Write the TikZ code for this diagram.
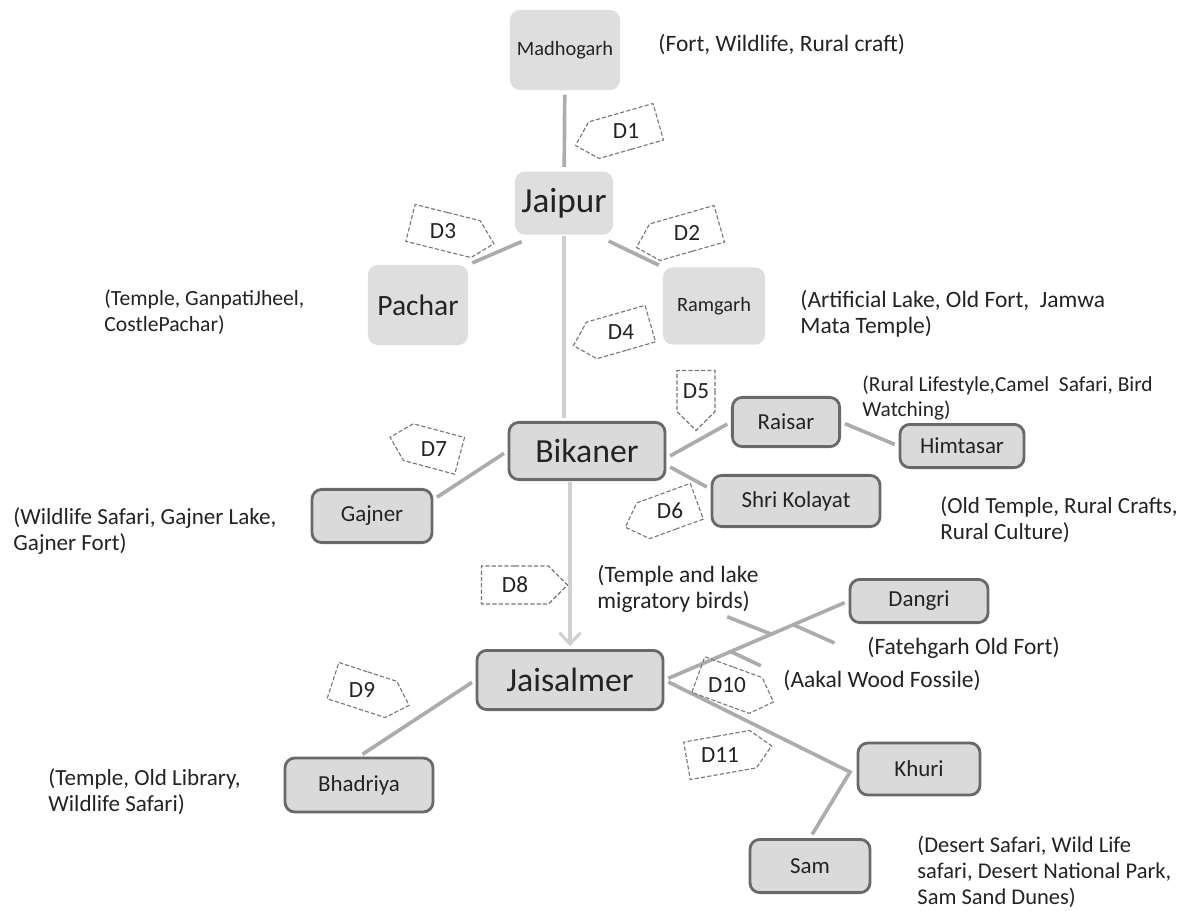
\documentclass[tikz,border=0pt]{standalone}
\usepackage{fontspec}
\setmainfont{Carlito}
\usetikzlibrary{arrows.meta,shapes.symbols}

\definecolor{ink}{RGB}{35,35,35}
\definecolor{softfill}{RGB}{222,222,222}
\definecolor{boxfill}{RGB}{218,218,218}
\definecolor{boxline}{RGB}{105,105,105}
\definecolor{roadgray}{RGB}{172,172,172}
\definecolor{trunkgray}{RGB}{208,208,208}
\definecolor{taggray}{RGB}{120,120,120}

% dashed distance tag: name, position, angle, length
\newcommand{\dtag}[4]{%
  \node[tag,rotate=#3,minimum width=#4] (#1) at (#2) {\rotatebox{-#3}{#1}};}

\begin{document}
\begin{tikzpicture}[x=0.025cm,y=-0.025cm,>={Straight Barb[length=8pt,width=15pt]},
                    semithick]
  \tikzstyle{every node}=[text=ink]
  \tikzstyle{soft}=[rectangle,rounded corners=7pt,fill=softfill,
                    font=\fontsize{14.5}{17}\selectfont]
  \tikzstyle{town}=[rectangle,rounded corners=7pt,draw=boxline,line width=2pt,
                    fill=boxfill,font=\fontsize{16.3}{19}\selectfont]
  \tikzstyle{big}=[font=\fontsize{24}{28}\selectfont]
  \tikzstyle{note}=[anchor=west,align=left,inner sep=0pt,
                    font=\fontsize{16.7}{18.5}\selectfont]
  \tikzstyle{road}=[draw=roadgray,line width=2.6pt,shorten <=3pt,shorten >=3pt]
  \tikzstyle{trunk}=[draw=trunkgray,line width=2.2pt,shorten <=1pt,shorten >=2pt]
  \tikzstyle{tag}=[signal,draw=taggray,dash pattern=on 3pt off 1.5pt,
                   line width=0.8pt,minimum height=0.95cm,inner sep=0pt,
                   font=\fontsize{16.5}{19}\selectfont]

  \useasboundingbox (0,0) rectangle (1189,910);

  % places
  \node[soft,minimum width=2.75cm,minimum height=2cm]   (MG) at (565,50)  {Madhogarh};
  \node[soft,font=\fontsize{25}{29}\selectfont,minimum width=2.45cm,minimum height=1.575cm]
                                                        (JP) at (564,203) {Jaipur};
  \node[soft,font=\fontsize{21}{25}\selectfont,minimum width=2.5cm,minimum height=2cm]
                                                        (PC) at (418,305) {Pachar};
  \node[soft,minimum width=2.55cm,minimum height=1.93cm] (RG) at (714,306) {Ramgarh};
  \node[town,big,minimum width=3.9cm,minimum height=1.43cm]  (BK) at (587,451) {Bikaner};
  \node[town,minimum width=2.68cm,minimum height=1.23cm] (RS) at (786,422) {Raisar};
  \node[town,minimum width=3.1cm,minimum height=1.08cm]  (HT) at (962,446) {Himtasar};
  \node[town,minimum width=4.2cm,minimum height=1.28cm]  (SK) at (796,501) {Shri Kolayat};
  \node[town,minimum width=3cm,minimum height=1.33cm]    (GJ) at (372,516) {Gajner};
  \node[town,big,minimum width=4.65cm,minimum height=1.48cm] (JS) at (570,680) {Jaisalmer};
  \node[town,minimum width=3.45cm,minimum height=1.08cm] (DG) at (919,601) {Dangri};
  \node[town,minimum width=3.05cm,minimum height=1.3cm]  (KH) at (919,769) {Khuri};
  \node[town,minimum width=3.7cm,minimum height=1.35cm]  (BD) at (359,785) {Bhadriya};
  \node[town,minimum width=3cm,minimum height=1.33cm]    (SM) at (810,866) {Sam};

  % connections
  \draw[road] (MG) -- (JP);
  \draw[road,shorten <=12pt] (JP.-130) -- (PC.north east);
  \draw[road,shorten <=10pt] (JP.-45) -- (RG.north west);
  \draw[trunk] (JP.south) -- (JP |- BK.north);
  \draw[road] (BK.-5) -- (RS.west);
  \draw[road] (RS.east) -- (HT.west);
  \draw[road] (BK.-10) -- (SK.172);
  \draw[road] (BK.west) -- (GJ.15);
  \draw[trunk,->] (BK.south -| JS) -- (JS.north);
  \draw[road] (JS.west) -- (BD.north);
  \draw[road] (JS.east) -- (DG.west);
  \path (JS.east) -- (DG.west) coordinate[pos=0.58] (F1)
        coordinate[pos=0.70] (F2) coordinate[pos=0.36] (F3);
  \draw[road,shorten <=0pt] (F1) -- ++(-48,-19);
  \draw[road,shorten <=0pt] (F2) -- ++(45,20);
  \draw[road,shorten <=0pt] (F3) -- ++(34,16);
  \coordinate (KJ) at (850,772);
  \draw[road] (JS.east) -- (KJ) -- (SM.north);

  % distances
  \dtag{D1}{626,131}{196}{2.15cm}
  \dtag{D2}{687,233}{196}{2.15cm}
  \dtag{D3}{443,231}{346}{2.15cm}
  \dtag{D4}{621,332}{196}{2.0cm}
  \dtag{D5}{696,391}{270}{1.5cm}
  \dtag{D6}{670,511}{200}{1.9cm}
  \dtag{D7}{434,449}{165}{1.8cm}
  \dtag{D8}{515,585}{0}{2.15cm}
  \dtag{D9}{362,690}{342}{2.0cm}
  \dtag{D10}{727,685}{340}{2.0cm}
  \dtag{D11}{720,755}{10}{2.15cm}

  % attractions
  \node[note] (MGn) at (658,45)  {(Fort, Wildlife, Rural craft)};
  \node[note,font=\fontsize{15.4}{18.5}\selectfont]
              (PCn) at (104,312) {(Temple, GanpatiJheel,\\CostlePachar)};
  \node[note] (RGn) at (800,314) {(Artificial Lake, Old Fort,\ \ Jamwa\\Mata Temple)};
  \node[note,font=\fontsize{15.2}{18}\selectfont]
              (HTn) at (862,398) {(Rural Lifestyle,Camel\ \ Safari, Bird\\Watching)};
  \node[note,font=\fontsize{16.4}{18.5}\selectfont]
              (SKn) at (940,520) {(Old Temple, Rural Crafts,\\Rural Culture)};
  \node[note,font=\fontsize{16.4}{18.5}\selectfont]
              (GJn) at (13,531)  {(Wildlife Safari, Gajner Lake,\\Gajner Fort)};
  \node[note] (JSn) at (597,589) {(Temple and lake\\migratory birds)};
  \node[note] (DGn) at (867,648) {(Fatehgarh Old Fort)};
  \node[note] (AKn) at (783,681) {(Aakal Wood Fossile)};
  \node[note,font=\fontsize{16.4}{18.5}\selectfont]
              (BDn) at (48,792)  {(Temple, Old Library,\\Wildlife Safari)};
  \node[note,font=\fontsize{16}{18.5}\selectfont]
              (SMn) at (917,872) {(Desert Safari, Wild Life\\safari, Desert National Park,\\Sam Sand Dunes)};

\end{tikzpicture}
\end{document}
